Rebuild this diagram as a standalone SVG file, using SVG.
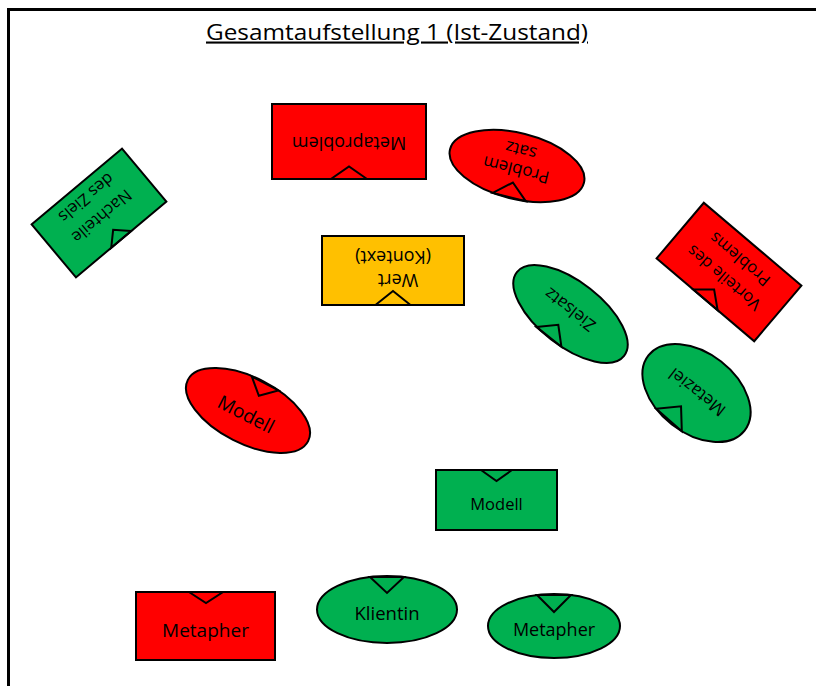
<svg xmlns="http://www.w3.org/2000/svg" width="816" height="686" viewBox="0 0 816 686">
<style>
.sh{stroke:#000;stroke-width:2}
.red{fill:#FF0000}
.green{fill:#00B050}
.orange{fill:#FFC000}
.tri{fill:none;stroke:#000;stroke-width:2;stroke-linejoin:miter}
.lbl{font-family:"Open Sans","DejaVu Sans",sans-serif;font-size:17px;text-anchor:middle;fill:#000}
.title{font-family:"Open Sans","DejaVu Sans",sans-serif;font-size:21px;fill:#000;text-decoration:underline}
</style>
<rect width="816" height="686" fill="#fff"/>
<path d="M8.5,686 V9.5 H816" fill="none" stroke="#000" stroke-width="3"/>
<text id="title" class="title" x="206" y="39.5" textLength="382" lengthAdjust="spacingAndGlyphs">Gesamtaufstellung 1 (Ist-Zustand)</text>

<g id="metaproblem" transform="translate(349,141.5) rotate(180)">
  <rect class="sh red" x="-77" y="-37.5" width="154" height="75"/>
  <path class="tri" d="M-18,-37.5 L0,-25 L18,-37.5 Z"/>
  <text class="lbl" style="font-size:18px" x="0" y="4.5">Metaproblem</text>
</g>

<g id="problemsatz" transform="translate(517,166) rotate(194)">
  <ellipse class="sh red" cx="0" cy="0" rx="69" ry="33"/>
  <path class="tri" d="M-17,-32 L0,-17 L17,-32 Z"/>
  <text class="lbl" x="0" y="2">Problem</text>
  <text class="lbl" x="0" y="22">satz</text>
</g>

<g id="nachteile" transform="translate(99,213) rotate(140)">
  <rect class="sh green" x="-59" y="-34.5" width="118" height="69"/>
  <path class="tri" d="M-13,-34.5 L0,-22 L13,-34.5 Z"/>
  <text class="lbl" style="font-size:16.5px" x="0" y="1.5">Nachteile</text>
  <text class="lbl" style="font-size:16.5px" x="0" y="25.5">des Ziels</text>
</g>

<g id="vorteile" transform="translate(729,272) rotate(220.3)">
  <rect class="sh red" x="-64" y="-36.5" width="128" height="73"/>
  <path class="tri" d="M-16,-36.5 L0,-23 L16,-36.5 Z"/>
  <text class="lbl" style="font-size:16.5px" x="0" y="-2">Vorteile des</text>
  <text class="lbl" style="font-size:16.5px" x="0" y="22.5">Problems</text>
</g>

<g id="wert" transform="translate(393,270.5) rotate(180)">
  <rect class="sh orange" x="-71" y="-34.5" width="142" height="69"/>
  <path class="tri" d="M-17.5,-34.5 L0,-20.5 L17.5,-34.5 Z"/>
  <text class="lbl" style="font-size:18px" x="-5" y="-3">Wert</text>
  <text class="lbl" style="font-size:18px" x="0" y="20">(Kontext)</text>
</g>

<g id="zielsatz" transform="translate(570.5,314) rotate(218)">
  <ellipse class="sh green" cx="0" cy="0" rx="68" ry="32"/>
  <path class="tri" d="M-13,-31.4 L3,-16 L19,-31.2 Z"/>
  <text class="lbl" x="3" y="9">Zielsatz</text>
</g>

<g id="metaziel" transform="translate(696.5,393) rotate(218)">
  <ellipse class="sh green" cx="0" cy="0" rx="61" ry="40"/>
  <path class="tri" d="M-12,-39.2 L4,-20 L22,-37.3 Z"/>
  <text class="lbl" x="0" y="7">Metaziel</text>
</g>

<g id="modell-rot" transform="translate(248,410.5) rotate(27)">
  <ellipse class="sh red" cx="0" cy="0" rx="67.5" ry="33"/>
  <path class="tri" d="M-12,-32 L3,-18 L18,-31.7 Z"/>
  <text class="lbl" style="font-size:19px" x="0" y="11">Modell</text>
</g>

<g id="modell-gruen">
  <rect class="sh green" x="436" y="470" width="121" height="60"/>
  <path class="tri" d="M481,470 L496.5,481 L512,470 Z"/>
  <text class="lbl" style="font-size:16.5px" x="496.5" y="510">Modell</text>
</g>

<g id="metapher-rot">
  <rect class="sh red" x="136" y="592" width="139" height="68"/>
  <path class="tri" d="M189,592 L206,603 L223,592 Z"/>
  <text class="lbl" style="font-size:19px" x="205.5" y="637">Metapher</text>
</g>

<g id="klientin">
  <ellipse class="sh green" cx="387" cy="609.5" rx="70" ry="33.5"/>
  <path class="tri" d="M370,577 L387,593 L404,577 Z"/>
  <text class="lbl" style="font-size:18.5px" x="387" y="620">Klientin</text>
</g>

<g id="metapher-gruen">
  <ellipse class="sh green" cx="554" cy="626" rx="66" ry="32"/>
  <path class="tri" d="M537,595 L554,612 L571,595 Z"/>
  <text class="lbl" style="font-size:18px" x="554" y="636">Metapher</text>
</g>
</svg>
